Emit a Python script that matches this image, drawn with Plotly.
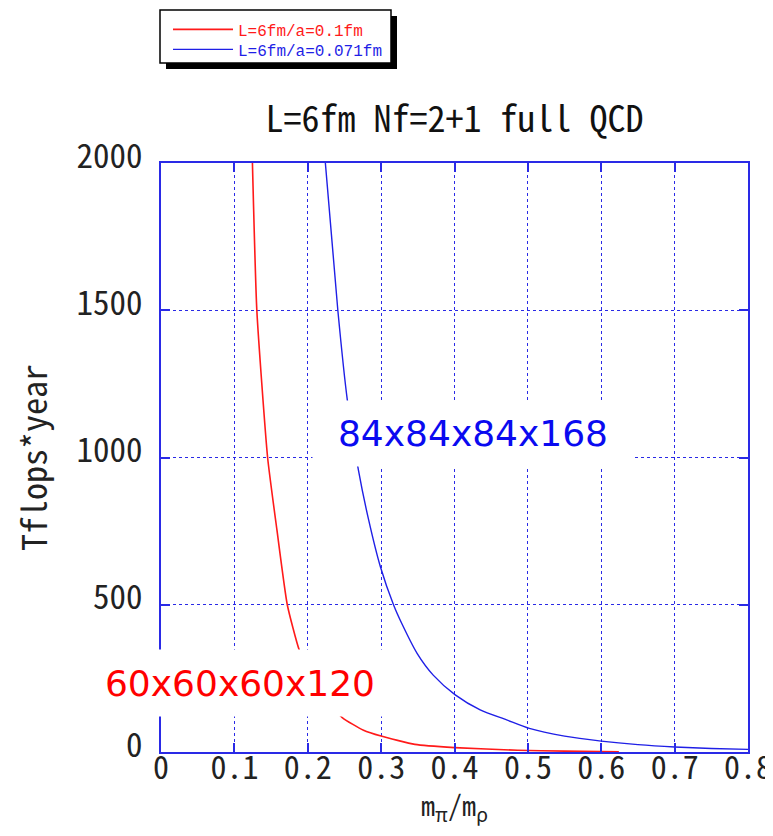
import plotly.graph_objects as go

# ---- data ----
red_name = "L=6fm/a=0.1fm"
red_x = [0.1246, 0.1306, 0.1453, 0.158, 0.1721, 0.1884, 0.210, 0.247,
         0.276, 0.300, 0.346, 0.400, 0.486, 0.550, 0.624]
red_y = [2000, 1500, 1000, 754, 500, 346, 226, 117,
         74, 54, 26, 15, 6, 3, 1]

blue_name = "L=6fm/a=0.071fm"
blue_x = [0.224, 0.241, 0.254, 0.269, 0.283, 0.299, 0.317, 0.328, 0.349, 0.371,
          0.401, 0.435, 0.471, 0.502, 0.550, 0.600, 0.650, 0.700, 0.750, 0.800]
blue_y = [2000, 1500, 1194, 958, 788, 629, 499, 437, 335, 261,
          194, 143, 109, 80, 54, 37, 25, 17, 12, 9]

x_ticks = [0, 0.1, 0.2, 0.3, 0.4, 0.5, 0.6, 0.7, 0.8]
x_ticklabels = ["0", "0.1", "0.2", "0.3", "0.4", "0.5", "0.6", "0.7", "0.8"]
y_ticks = [0, 500, 1000, 1500, 2000]
y_ticklabels = ["0", "500", "1000", "1500", "2000"]

title_text = "L=6fm Nf=2+1 full QCD"
x_title = "m<sub>π</sub>/m<sub>ρ</sub>"
y_title = "Tflops*year"
label_blue = "84x84x84x168"
label_red = "60x60x60x120"

# ---- styles ----
RED = "#ff1a1a"
BLUE = "#1f1fe6"
FRAME = "#2a2ae6"
GOTHIC = "Noto Sans Mono CJK JP, Noto Sans CJK JP, DejaVu Sans Mono, monospace"
LEGFONT = "Liberation Mono, DejaVu Sans Mono, monospace"

OFF = 8  # page body margin
W, H = 773 - OFF, 836 - 2 * OFF   # keep page from overflowing (no scrollbar)
ML, MR, MT = 153, 25, 155
MB = H - 744                      # plot bottom at reference y=752
PW, PH = W - ML - MR, H - MT - MB


def px_to_paper_x(px):
    return (px - OFF - ML) / PW


def px_to_paper_y(py):
    return (H - MB - (py - OFF)) / PH


fig = go.Figure()
fig.add_trace(go.Scatter(
    x=red_x, y=red_y, mode="lines", line=dict(color=RED, width=1.6, shape="spline", smoothing=0.5),
    name=f'<span style="color:{RED}">{red_name}</span>', legend="legend"))
fig.add_trace(go.Scatter(
    x=blue_x, y=blue_y, mode="lines", line=dict(color=BLUE, width=1.4, shape="spline", smoothing=0.7),
    name=f'<span style="color:{BLUE}">{blue_name}</span>', legend="legend2"))

axis_common = dict(
    showline=True, linecolor=FRAME, linewidth=2, mirror="ticks",
    ticks="inside", ticklen=9, tickwidth=2, tickcolor=FRAME,
    showgrid=True, gridcolor=FRAME, gridwidth=1, griddash="dot",
    zeroline=False,
)

fig.update_xaxes(
    range=[0, 0.8], tickvals=x_ticks, ticktext=x_ticklabels,
    ticklabelstandoff=-13,
    tickfont=dict(family=GOTHIC, size=32, color="#222222"),
    title=dict(text=x_title, font=dict(family=GOTHIC, size=28, color="#222222"), standoff=4),
    **axis_common)
fig.update_yaxes(
    range=[0, 2000], tickvals=y_ticks, ticktext=y_ticklabels,
    ticklabelshift=-7, ticklabelstandoff=10,
    tickfont=dict(family=GOTHIC, size=33, color="#222222"),
    title=dict(text=y_title, font=dict(family=GOTHIC, size=34, color="#222222"), standoff=32),
    **axis_common)

# legend frame + shadow (drawn as shapes; legends transparent on top)
shapes = [
    dict(type="rect", xref="paper", yref="paper",
         x0=px_to_paper_x(166), x1=px_to_paper_x(397),
         y0=px_to_paper_y(69), y1=px_to_paper_y(16),
         fillcolor="black", line=dict(width=0), layer="above"),
    dict(type="rect", xref="paper", yref="paper",
         x0=px_to_paper_x(160), x1=px_to_paper_x(391),
         y0=px_to_paper_y(63), y1=px_to_paper_y(10),
         fillcolor="white", line=dict(color="black", width=1.5), layer="above"),
]

annotations = [
    dict(x=0.425, y=1082, xref="x", yref="y", text=label_blue, showarrow=False,
         font=dict(family="DejaVu Sans, Verdana, sans-serif", size=36, color="#0a0af0"),
         bgcolor="white", width=320, height=65, borderpad=0),
    dict(x=0.1076, y=234, xref="x", yref="y", text=label_red, showarrow=False,
         font=dict(family="DejaVu Sans, Verdana, sans-serif", size=36, color="#ff0000"),
         bgcolor="white", width=296, height=66, borderpad=0),
]

legend_common = dict(xanchor="left", yanchor="top", bgcolor="rgba(0,0,0,0)", borderwidth=0,
                     font=dict(family=LEGFONT, size=16), itemwidth=60)

fig.update_layout(
    width=W, height=H,
    margin=dict(l=ML, r=MR, t=MT, b=MB, autoexpand=False),
    paper_bgcolor="white", plot_bgcolor="white",
    title=dict(text=title_text, x=0.5, xref="paper", xanchor="center",
               y=1 - (119 - OFF) / H, yref="container", yanchor="middle",
               font=dict(family=GOTHIC, size=36, color="#111111")),
    showlegend=True,
    legend=dict(x=px_to_paper_x(168), y=px_to_paper_y(12.5), **legend_common),
    legend2=dict(x=px_to_paper_x(168), y=px_to_paper_y(32.5), **legend_common),
    shapes=shapes,
    annotations=annotations,
)

fig.write_html("out.html")
